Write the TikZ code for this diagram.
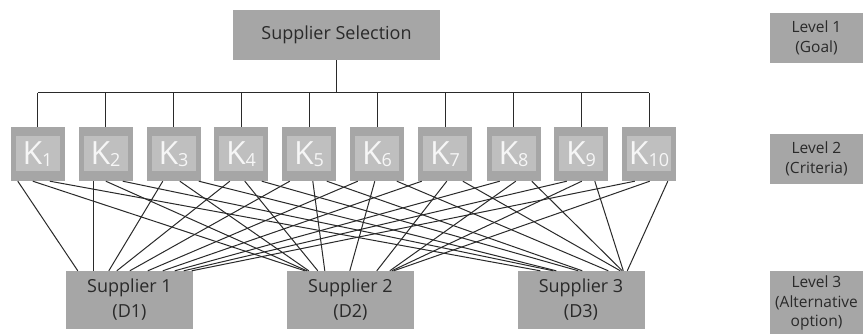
\documentclass[tikz,border=0pt]{standalone}
\usepackage{fontspec}
\setmainfont{Open Sans}
\definecolor{boxgray}{HTML}{A6A6A6}
\definecolor{innergray}{HTML}{BFBFBF}
\definecolor{txt}{HTML}{2A2A2A}
\definecolor{ktext}{HTML}{F6F6F6}
\definecolor{wire}{HTML}{2A2A2A}
\newcommand\critlabel[1]{{\fontsize{32}{32}\selectfont K}\raisebox{-2pt}{\fontsize{18}{18}\selectfont #1}}
\tikzset{
  box/.style={fill=boxgray, draw=none, inner sep=0pt, align=center, text=txt,
    font=\fontsize{18}{25}\selectfont},
  crit/.style={box, minimum width=54pt, minimum height=54pt, text=ktext,
    path picture={\fill[innergray]
      ([shift={(5pt,-9.5pt)}]path picture bounding box.north west) rectangle
      ([shift={(-5pt,9.5pt)}]path picture bounding box.south east);}},
  alt/.style={box, minimum width=127pt, minimum height=58pt},
  level/.style={box, minimum width=93pt, font=\fontsize{15.5}{19.5}\selectfont},
  wire/.style={draw=wire, line width=1pt}
}
\begin{document}
\begin{tikzpicture}[x=1pt,y=-1pt]
\useasboundingbox (0,0) rectangle (863,334);
\fill[white] (0,0) rectangle (863,334);

% goal
\node[box, minimum width=207pt, minimum height=50pt] (goal) at (336.5,35) {Supplier Selection};

% criteria
\foreach \i/\cx in {1/37.5,2/105.5,3/173.5,4/241,5/309,6/377,7/445,8/513.5,9/581,10/649}
  \node[crit] (k\i) at (\cx,154) {\critlabel{\i}};

% alternatives
\node[alt] (s1) at (129.5,300) {Supplier 1\\(D1)};
\node[alt] (s2) at (350.5,300) {Supplier 2\\(D2)};
\node[alt] (s3) at (581,300) {Supplier 3\\(D3)};

% level labels
\node[level, minimum height=50pt] (lv1) at (816.5,38) {Level 1\\(Goal)};
\node[level, minimum height=50pt] (lv2) at (816.5,159) {Level 2\\(Criteria)};
\node[level, minimum height=64pt] (lv3) at (816.5,303) {Level 3\\(Alternative\\option)};

% goal to criteria tree
\coordinate (bus) at (336.5,93);
\draw[wire] (goal.south) -- (bus);
\draw[wire] (k1.north |- bus) -- (k10.north |- bus);
\foreach \i in {1,...,10}
  \draw[wire] (k\i.north) -- (k\i.north |- bus);

% criteria to alternatives
\foreach \i/\a/\b/\c/\p/\q/\r in {
  1/7.5/22.5/39.5/12/18/23,
  2/15.5/27.5/44.5/28/20/36,
  3/16.5/33.5/52.5/43/22/39,
  4/16/31/48/51/31/61,
  5/8/31/45/64/38/65,
  6/8/25/47/82/63/91,
  7/4/29/45/97/90/103,
  8/13.5/29.5/45.5/109/103/105,
  9/13/28/41/118/105/106,
  10/13/28/46/126/107/110}{
  \draw[wire] ([xshift=\a pt]k\i.south west) -- ([xshift=\p pt]s1.north west);
  \draw[wire] ([xshift=\b pt]k\i.south west) -- ([xshift=\q pt]s2.north west);
  \draw[wire] ([xshift=\c pt]k\i.south west) -- ([xshift=\r pt]s3.north west);
}
\end{tikzpicture}
\end{document}
